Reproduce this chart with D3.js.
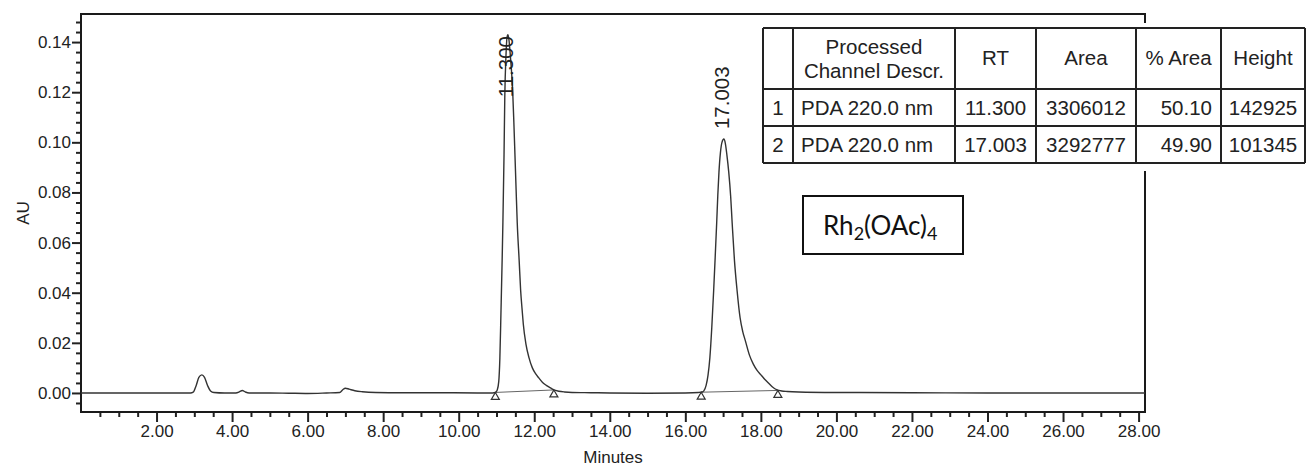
<!DOCTYPE html>
<html>
<head>
<meta charset="utf-8">
<script src="https://cdn.jsdelivr.net/npm/d3@7"></script>
<style>
body { margin: 0; background: #fff; }
svg text { font-family: "Liberation Sans", Arial, sans-serif; }
</style>
</head>
<body>
<div id="chart"></div>
<script>
// trace: minutes and AU
var traceTime = [0.00, 0.80, 1.60, 2.40, 2.90, 2.97, 3.05, 3.12, 3.20, 3.27, 3.35, 3.43, 3.52, 3.80,
    4.10, 4.20, 4.27, 4.35, 4.45, 5.00, 5.50, 6.00, 6.50, 6.85, 6.93, 7.00, 7.10, 7.25, 7.45, 7.80,
    8.50, 9.50, 10.50, 10.90, 10.97, 11.02, 11.06, 11.09, 11.12, 11.15, 11.17, 11.20, 11.22, 11.25,
    11.28, 11.30, 11.33, 11.37, 11.40, 11.43, 11.46, 11.49, 11.52, 11.55, 11.60, 11.64, 11.68, 11.71,
    11.78, 11.86, 11.95, 12.03, 12.12, 12.22, 12.32, 12.43, 12.52, 12.65, 12.80, 13.00, 13.50, 14.00,
    15.00, 16.00, 16.35, 16.45, 16.49, 16.55, 16.60, 16.65, 16.70, 16.75, 16.79, 16.83, 16.86, 16.89,
    16.93, 16.97, 17.02, 17.06, 17.10, 17.15, 17.20, 17.24, 17.30, 17.37, 17.45, 17.52, 17.59, 17.70,
    17.80, 17.90, 17.99, 18.10, 18.20, 18.30, 18.43, 18.55, 18.70, 19.00, 20.00, 22.00, 24.00, 26.00, 28.17];
var traceAU = [0, 0, 0, 0, 0, 0.0003, 0.0030, 0.0062, 0.0072, 0.0062, 0.0030, 0.0008, 0.0002, 0,
    0, 0.0005, 0.0010, 0.0004, 0, 0, -0.0001, -0.0002, 0, 0.0002, 0.0013, 0.0019, 0.0015, 0.0009, 0.0005, 0.0002,
    0.0001, 0.0001, 0, 0, 0.0002, 0.0012, 0.0045, 0.0140, 0.0330, 0.0530, 0.0680, 0.0950, 0.1180, 0.1340,
    0.1420, 0.1429, 0.1410, 0.1340, 0.1280, 0.1200, 0.1080, 0.0946, 0.0810, 0.0678, 0.0530, 0.0409, 0.0330, 0.0275,
    0.0195, 0.0141, 0.0100, 0.0078, 0.0060, 0.0042, 0.0030, 0.0020, 0.0012, 0.0007, 0.0004, 0.0002, 0.0001, 0,
    -0.0001, 0, 0.0002, 0.0004, 0.0008, 0.0030, 0.0070, 0.0141, 0.0260, 0.0409, 0.0540, 0.0678, 0.0790, 0.0880,
    0.0960, 0.1000, 0.1013, 0.0995, 0.0950, 0.0880, 0.0785, 0.0678, 0.0530, 0.0409, 0.0300, 0.0245, 0.0208, 0.0150,
    0.0115, 0.0090, 0.0074, 0.0055, 0.0040, 0.0025, 0.0012, 0.0008, 0.0006, 0.0004, 0.0002, 0.0001, 0, 0, 0];

var peakRT = [11.30, 17.02];
var peakAU = [0.1429, 0.1013];
var peakLabels = ["11.300", "17.003"];

// integration start / end marks
var markTime = [10.97, 12.52, 16.42, 18.45];
var markAU = [0.0002, 0.0012, 0.0003, 0.0010];

var yMajorTicks = [0.00, 0.02, 0.04, 0.06, 0.08, 0.10, 0.12, 0.14];
var xMajorTicks = [2, 4, 6, 8, 10, 12, 14, 16, 18, 20, 22, 24, 26, 28];

var tableHeader = ["", "Processed|Channel Descr.", "RT", "Area", "% Area", "Height"];
var tableRow1 = ["1", "PDA 220.0 nm", "11.300", "3306012", "50.10", "142925"];
var tableRow2 = ["2", "PDA 220.0 nm", "17.003", "3292777", "49.90", "101345"];


var W = 1306, H = 468;
var pLeft = 81, pRight = 1145, pTop = 14, pBottom = 412;
var ink = "#222";

var svg = d3.select("#chart").append("svg")
    .attr("width", W)
    .attr("height", H);

var x = d3.scaleLinear().domain([0, 28.17]).range([pLeft, pRight]);
var y = d3.scaleLinear().domain([-0.0076, 0.1512]).range([pBottom, pTop]);

svg.append("defs").append("clipPath").attr("id", "plotclip")
    .append("rect").attr("x", pLeft).attr("y", pTop).attr("width", pRight - pLeft).attr("height", pBottom - pTop);

// minor ticks
var xMinor = d3.range(0.5, 28.01, 0.5).filter(function(d){ return d % 2 != 0; });
var yMinor = d3.range(-0.004, 0.1481, 0.004).filter(function(d){ return Math.abs(Math.round(d / 0.02) * 0.02 - d) > 1e-6; });

svg.append("g")
    .attr("transform", "translate(0," + pBottom + ")")
    .call(d3.axisBottom(x).tickValues(xMinor).tickSize(5).tickFormat(""))
    .call(function(g){ g.select(".domain").remove(); g.selectAll("line").attr("stroke", ink).attr("stroke-width", 2); });

svg.append("g")
    .attr("transform", "translate(" + pLeft + ",0)")
    .call(d3.axisLeft(y).tickValues(yMinor).tickSize(5).tickFormat(""))
    .call(function(g){ g.select(".domain").remove(); g.selectAll("line").attr("stroke", ink).attr("stroke-width", 2); });

// major ticks with labels
var xAxis = svg.append("g")
    .attr("transform", "translate(0," + pBottom + ")")
    .call(d3.axisBottom(x).tickValues(xMajorTicks).tickSize(10).tickPadding(3).tickFormat(d3.format(".2f")));
xAxis.select(".domain").remove();
xAxis.selectAll("line").attr("stroke", ink).attr("stroke-width", 2);
xAxis.selectAll("text").attr("font-size", 17).attr("fill", ink).attr("font-family", "Liberation Sans, Arial, sans-serif");

var yAxis = svg.append("g")
    .attr("transform", "translate(" + pLeft + ",0)")
    .call(d3.axisLeft(y).tickValues(yMajorTicks).tickSize(9).tickPadding(1).tickFormat(d3.format(".2f")));
yAxis.select(".domain").remove();
yAxis.selectAll("line").attr("stroke", ink).attr("stroke-width", 2);
yAxis.selectAll("text").attr("font-size", 17).attr("fill", ink).attr("font-family", "Liberation Sans, Arial, sans-serif");

// frame
svg.append("rect")
    .attr("x", pLeft).attr("y", pTop)
    .attr("width", pRight - pLeft).attr("height", pBottom - pTop)
    .attr("fill", "none").attr("stroke", "#1a1a1a").attr("stroke-width", 2);

// axis titles
svg.append("text")
    .attr("x", (pLeft + pRight) / 2).attr("y", 463)
    .attr("text-anchor", "middle").attr("font-size", 17).attr("fill", ink)
    .text("Minutes");
svg.append("text")
    .attr("transform", "translate(29," + ((pTop + pBottom) / 2) + ") rotate(-90)")
    .attr("text-anchor", "middle").attr("font-size", 17).attr("fill", ink)
    .text("AU");

// trace
var points = traceTime.map(function(t, i){ return [t, traceAU[i]]; });
var line = d3.line()
    .x(function(d){ return x(d[0]); })
    .y(function(d){ return y(d[1]); })
    .curve(d3.curveMonotoneX);

var plot = svg.append("g").attr("clip-path", "url(#plotclip)");

// integration baselines
for (var k = 0; k < markTime.length; k += 2) {
    plot.append("line")
        .attr("x1", x(markTime[k])).attr("y1", y(markAU[k]))
        .attr("x2", x(markTime[k + 1])).attr("y2", y(markAU[k + 1]))
        .attr("stroke", "#666").attr("stroke-width", 1);
}

plot.append("path")
    .datum(points)
    .attr("fill", "none")
    .attr("stroke", "#333")
    .attr("stroke-width", 1.4)
    .attr("d", line);

// triangle marks
svg.selectAll(".mark")
    .data(markTime)
    .enter()
    .append("path")
    .attr("class", "mark")
    .attr("d", function(d, i){
        var cx = x(d), cy = y(markAU[i]);
        return "M" + cx + "," + cy + " L" + (cx + 4) + "," + (cy + 7) + " L" + (cx - 4) + "," + (cy + 7) + " Z";
    })
    .attr("fill", "#fff").attr("stroke", "#333").attr("stroke-width", 1.2);

// peak labels, kept inside the frame
peakLabels.forEach(function(lab, i){
    var t = svg.append("text")
        .attr("font-size", 20.5).attr("fill", ink)
        .text(lab);
    var len = t.node().getComputedTextLength();
    var ys = Math.max(y(peakAU[i]) - 10, pTop + 22 + len);
    t.attr("transform", "translate(" + (x(peakRT[i]) + 5) + "," + ys + ") rotate(-90)");
});

// result table
var colX = [763, 793, 955, 1036, 1136, 1221, 1305];
var rowY = [28, 89, 126, 163];
var tbl = svg.append("g");
tbl.append("rect")
    .attr("x", colX[0] - 10).attr("y", 23)
    .attr("width", W - colX[0] + 10).attr("height", 148)
    .attr("fill", "#fff");
rowY.forEach(function(ry){
    tbl.append("line").attr("x1", colX[0]).attr("x2", colX[6]).attr("y1", ry).attr("y2", ry)
        .attr("stroke", ink).attr("stroke-width", 2);
});
colX.forEach(function(cx){
    tbl.append("line").attr("x1", cx).attr("x2", cx).attr("y1", rowY[0]).attr("y2", rowY[3])
        .attr("stroke", ink).attr("stroke-width", 2);
});

var align = ["middle", "start", "middle", "middle", "end", "middle"];
function cellX(c){
    if (align[c] == "start") return colX[c] + 8;
    if (align[c] == "end") return colX[c + 1] - 9;
    return (colX[c] + colX[c + 1]) / 2;
}
tableHeader.forEach(function(h, c){
    var parts = h.split("|");
    if (parts.length == 2) {
        parts.forEach(function(p, j){
            tbl.append("text").attr("x", (colX[c] + colX[c + 1]) / 2).attr("y", j == 0 ? 54 : 78)
                .attr("text-anchor", "middle").attr("font-size", 20.5).attr("fill", ink).text(p);
        });
    } else if (h != "") {
        tbl.append("text").attr("x", (colX[c] + colX[c + 1]) / 2).attr("y", 65)
            .attr("text-anchor", "middle").attr("font-size", 20.5).attr("fill", ink).text(h);
    }
});
[tableRow1, tableRow2].forEach(function(row, r){
    row.forEach(function(v, c){
        tbl.append("text").attr("x", cellX(c)).attr("y", r == 0 ? 115 : 152)
            .attr("text-anchor", align[c]).attr("font-size", 20.5).attr("fill", ink).text(v);
    });
});

// catalyst box
svg.append("rect")
    .attr("x", 803).attr("y", 196).attr("width", 160).attr("height", 58)
    .attr("fill", "#fff").attr("stroke", "#111").attr("stroke-width", 2);
var cat = svg.append("text")
    .attr("x", 823).attr("y", 235)
    .attr("font-size", 26).attr("fill", "#111")
    .style("font-family", "Lato, 'Open Sans', sans-serif");
cat.append("tspan").text("Rh");
cat.append("tspan").attr("font-size", 18).attr("dy", 5).text("2");
cat.append("tspan").attr("dy", -5).text("(OAc)");
cat.append("tspan").attr("font-size", 18).attr("dy", 5).text("4");
</script>
</body>
</html>
